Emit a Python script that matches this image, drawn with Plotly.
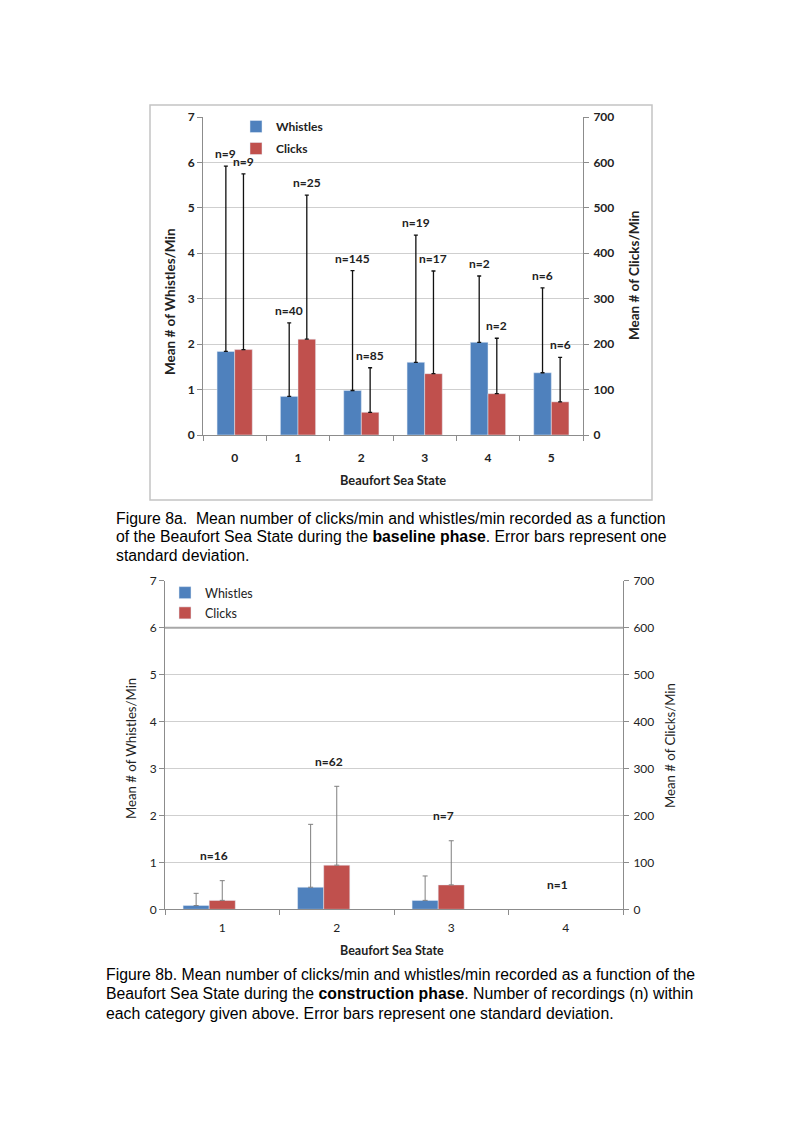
import plotly.graph_objects as go

PAGE_W, PAGE_H = 793, 1123
BODY_MARGIN = 8
W, H = PAGE_W - 2 * BODY_MARGIN, PAGE_H - 2 * BODY_MARGIN

# ---------------- Figure 8a (baseline phase) ----------------
states_a = ["0", "1", "2", "3", "4", "5"]
whistles_a = [1.84, 0.85, 0.98, 1.60, 2.04, 1.37]
whistles_sd_a = [4.08, 1.62, 2.64, 2.80, 1.46, 1.87]
clicks_a = [188, 211, 50, 135, 91, 73]
clicks_sd_a = [387, 317, 98, 226, 122, 98]
n_whistles_a = [9, 40, 145, 19, 2, 6]
n_clicks_a = [9, 25, 85, 17, 2, 6]

# ---------------- Figure 8b (construction phase) ----------------
states_b = ["1", "2", "3", "4"]
whistles_b = [0.08, 0.47, 0.19, None]
whistles_sd_b = [0.26, 1.34, 0.52, 0]
clicks_b = [19, 94, 52, None]
clicks_sd_b = [42, 168, 94, 0]
n_b = [16, 62, 7, 1]

left_ticks = [0, 1, 2, 3, 4, 5, 6, 7]
right_ticks = [0, 100, 200, 300, 400, 500, 600, 700]

caption_a = [
    "Figure 8a.&nbsp; Mean number of clicks/min and whistles/min recorded as a function",
    "of the Beaufort Sea State during the <b>baseline phase</b>. Error bars represent one",
    "standard deviation.",
]
caption_b = [
    "Figure 8b. Mean number of clicks/min and whistles/min recorded as a function of the",
    "Beaufort Sea State during the <b>construction phase</b>. Number of recordings (n) within",
    "each category given above. Error bars represent one standard deviation.",
]

BLUE = "#4f81bd"
RED = "#c0504d"
FONT = "Lato"
CAP_FONT = "Liberation Sans"


def px(x):
    return (x - BODY_MARGIN) / W


def py(y):
    return 1 - (y - BODY_MARGIN) / H


fig = go.Figure()

# ---- top chart traces ----
wa = 0.278
fig.add_trace(go.Bar(
    x=states_a, y=whistles_a, name="Whistles", marker_color=BLUE,
    width=wa, offset=-wa, xaxis="x", yaxis="y", legend="legend", legendgroup="wa",
    error_y=dict(type="data", symmetric=False, array=whistles_sd_a,
                 arrayminus=[0] * len(whistles_sd_a), color="#111111", thickness=1.3, width=2),
))
fig.add_trace(go.Bar(
    x=states_a, y=clicks_a, name="Clicks", marker_color=RED,
    width=wa, offset=0, xaxis="x", yaxis="y2", legend="legend", legendgroup="ca",
    error_y=dict(type="data", symmetric=False, array=clicks_sd_a,
                 arrayminus=[0] * len(clicks_sd_a), color="#111111", thickness=1.3, width=2),
))

# ---- bottom chart traces ----
wb = 0.228
fig.add_trace(go.Bar(
    x=states_b, y=whistles_b, name="Whistles", marker_color=BLUE,
    width=wb, offset=-1.5 * wb, xaxis="x2", yaxis="y3", legend="legend2", legendgroup="wb",
    error_y=dict(type="data", symmetric=False, array=whistles_sd_b,
                 arrayminus=[0] * len(whistles_sd_b), color="#7f7f7f", thickness=1, width=2.5),
))
fig.add_trace(go.Bar(
    x=states_b, y=clicks_b, name="Clicks", marker_color=RED,
    width=wb, offset=-0.5 * wb, xaxis="x2", yaxis="y4", legend="legend2", legendgroup="cb",
    error_y=dict(type="data", symmetric=False, array=clicks_sd_b,
                 arrayminus=[0] * len(clicks_sd_b), color="#7f7f7f", thickness=1, width=2.5),
))

annotations = []
nfont = dict(family=FONT, size=12, color="#222", weight="bold")
# n labels top chart
for i in range(len(states_a)):
    annotations.append(dict(
        x=i - wa / 2, y=whistles_a[i] + whistles_sd_a[i], xref="x", yref="y",
        text=f"n={n_whistles_a[i]}", showarrow=False, xanchor="center", yanchor="bottom",
        yshift=3, font=nfont))
    annotations.append(dict(
        x=i + wa / 2, y=clicks_a[i] + clicks_sd_a[i], xref="x", yref="y2",
        text=f"n={n_clicks_a[i]}", showarrow=False, xanchor="center", yanchor="bottom",
        yshift=3, font=nfont))

# n labels bottom chart
for i in range(len(states_b)):
    wt = (whistles_b[i] or 0) + whistles_sd_b[i]
    ct = ((clicks_b[i] or 0) + clicks_sd_b[i]) / 100
    annotations.append(dict(
        x=i, y=max(wt, ct), xref="x2", yref="y3", xshift=-8, yshift=25,
        text=f"n={n_b[i]}", showarrow=False, xanchor="center", yanchor="middle",
        font=nfont))


def label(x, y, text, font, angle=0):
    return dict(x=px(x), y=py(y), xref="paper", yref="paper", text=text, textangle=angle,
                showarrow=False, xanchor="center", yanchor="middle", font=font)


annotations += [
    label(170, 302, "Mean # of Whistles/Min", dict(family=FONT, size=13.5, color="#222", weight="bold"), -90),
    label(634, 276, "Mean # of Clicks/Min", dict(family=FONT, size=13.5, color="#222", weight="bold"), -90),
    label(393, 480, "Beaufort Sea State", dict(family=FONT, size=12.8, color="#222", weight="bold")),
    label(131, 748, "Mean # of Whistles/Min", dict(family=FONT, size=13.2, color="#222"), -90),
    label(670, 746, "Mean # of Clicks/Min", dict(family=FONT, size=13.2, color="#222"), -90),
    label(392, 950, "Beaufort Sea State", dict(family=FONT, size=12.5, color="#222", weight="bold")),
]

# captions, one annotation per line
cap_font = dict(family=CAP_FONT, size=15.8, color="#000")
for line, yy in zip(caption_a, [518, 536.5, 555]):
    annotations.append(dict(x=px(114), y=py(yy), xref="paper", yref="paper", text=line,
                            xanchor="left", yanchor="middle", align="left",
                            showarrow=False, font=cap_font))
for line, yy in zip(caption_b, [974, 993.7, 1013.4]):
    annotations.append(dict(x=px(104), y=py(yy), xref="paper", yref="paper", text=line,
                            xanchor="left", yanchor="middle", align="left",
                            showarrow=False, font=cap_font))

shapes = [
    dict(type="rect", xref="paper", yref="paper", x0=px(150), x1=px(652), y0=py(500), y1=py(105),
         line=dict(color="#c4c4c4", width=1.5), fillcolor="rgba(0,0,0,0)", layer="below"),
    dict(type="line", xref="x2 domain", yref="y3", x0=0, x1=1, y0=left_ticks[6], y1=left_ticks[6],
         line=dict(color="#a8a8a8", width=2)),
]

AX = "#8c8c8c"
GRID = "#cfcfcf"
tick_b = dict(family=FONT, size=12, color="#222", weight="bold")
tick_r = dict(family=FONT, size=12, color="#222")

fig.update_layout(
    width=W, height=H, margin=dict(l=0, r=0, t=0, b=0, pad=0, autoexpand=False),
    paper_bgcolor="white", plot_bgcolor="white",
    barmode="group", showlegend=True,
    xaxis=dict(domain=[px(203), px(583)], anchor="y", type="category",
               tickson="boundaries", ticks="outside", ticklen=5, tickcolor=AX,
               showline=True, linecolor=AX, linewidth=1, showgrid=False,
               tickfont=tick_b, ticklabelstandoff=12, automargin=False),
    yaxis=dict(domain=[py(435), py(117)], anchor="x", range=[0, 7], tickvals=left_ticks,
               ticks="outside", ticklen=5, tickcolor=AX, showline=True, linecolor=AX,
               gridcolor=GRID, gridwidth=1, zeroline=False, tickfont=tick_b, automargin=False),
    yaxis2=dict(overlaying="y", side="right", anchor="x", range=[0, 700], tickvals=right_ticks,
                ticks="outside", ticklen=5, tickcolor=AX, showline=True, linecolor=AX,
                showgrid=False, zeroline=False, tickfont=tick_b, ticklabelstandoff=2,
                automargin=False),
    xaxis2=dict(domain=[px(165), px(623)], anchor="y3", type="category",
                tickson="boundaries", ticks="outside", ticklen=5, tickcolor=AX,
                showline=True, linecolor=AX, linewidth=1, showgrid=False,
                tickfont=tick_r, ticklabelstandoff=7, automargin=False),
    yaxis3=dict(domain=[py(909.3), py(580.7)], anchor="x2", range=[0, 7], tickvals=left_ticks,
                ticks="outside", ticklen=5, tickcolor=AX, showline=True, linecolor=AX,
                gridcolor=GRID, gridwidth=1, zeroline=False, tickfont=tick_r, automargin=False),
    yaxis4=dict(overlaying="y3", side="right", anchor="x2", range=[0, 700], tickvals=right_ticks,
                ticks="outside", ticklen=5, tickcolor=AX, showline=True, linecolor=AX,
                showgrid=False, zeroline=False, tickfont=tick_r, ticklabelstandoff=2,
                automargin=False),
    legend=dict(x=px(236), y=py(112), xanchor="left", yanchor="top", bgcolor="rgba(0,0,0,0)",
                font=dict(family=FONT, size=12, color="#222", weight="bold"),
                tracegroupgap=3, itemwidth=30),
    legend2=dict(x=px(165), y=py(578), xanchor="left", yanchor="top", bgcolor="rgba(0,0,0,0)",
                 font=dict(family=FONT, size=12.5, color="#222"),
                 tracegroupgap=1, itemwidth=30),
    annotations=annotations, shapes=shapes,
)

fig.write_html("out.html", config={"displayModeBar": False})
